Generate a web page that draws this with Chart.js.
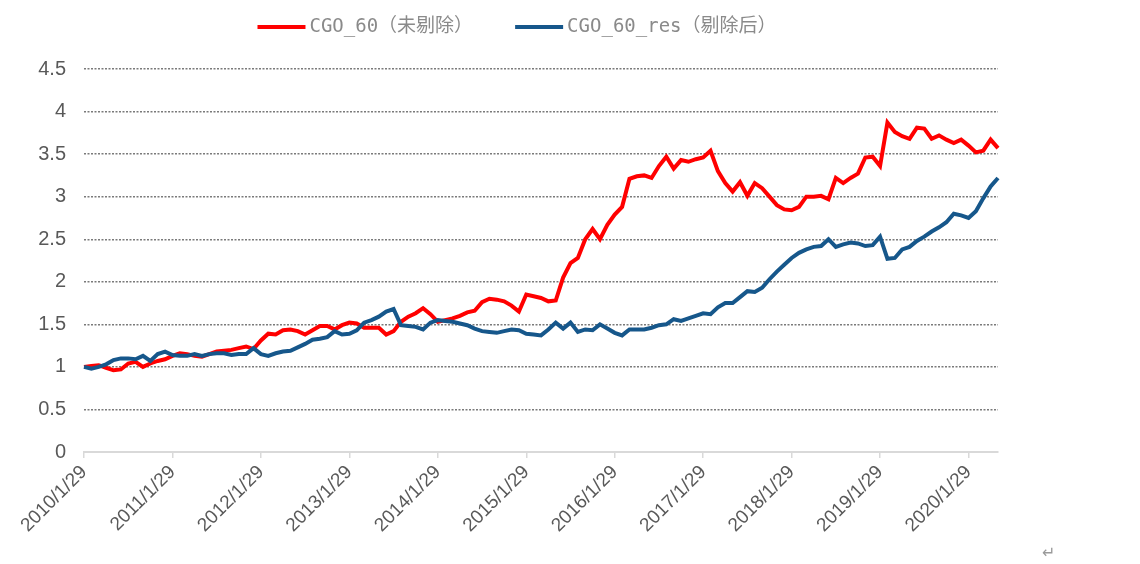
<!DOCTYPE html>
<html lang="zh-CN">
<head>
<meta charset="utf-8">
<title>CGO_60</title>
<script src="https://cdn.jsdelivr.net/npm/chart.js@4.4.1/dist/chart.umd.min.js"></script>
<style>
  html, body { margin: 0; padding: 0; background: #fff; }
  #wrap { position: relative; width: 1140px; height: 564px; }
  #para { position: absolute; left: 1042px; top: 543px; font: 16px 'DejaVu Sans', sans-serif; color: #9a9a9a; }
</style>
</head>
<body>
<div id="wrap">
  <canvas id="cgoChart" width="1140" height="564"></canvas>
  <span id="para">↵</span>
</div>
<script>
'use strict';

// monthly points, 2010/1 .. 2020/5
const MONTHS = [];
for (let y = 2010; y <= 2020; y++) {
  for (let m = 1; m <= 12; m++) {
    if (y === 2020 && m > 5) break;
    MONTHS.push(`${y}/${m}/29`);
  }
}

const CGO_60 = [
  1.00, 1.01, 1.02, 0.99, 0.96, 0.97, 1.04, 1.06, 1.00, 1.04, 1.07, 1.09,
  1.13, 1.16, 1.15, 1.13, 1.12, 1.15, 1.18, 1.19, 1.20, 1.22, 1.24, 1.21,
  1.31, 1.39, 1.38, 1.43, 1.44, 1.42, 1.38, 1.43, 1.48, 1.48, 1.44, 1.49,
  1.52, 1.51, 1.46, 1.46, 1.46, 1.38, 1.42, 1.53, 1.59, 1.63, 1.69, 1.62,
  1.53, 1.55, 1.57, 1.60, 1.64, 1.66, 1.76, 1.80, 1.79, 1.77, 1.72, 1.65,
  1.85, 1.83, 1.81, 1.77, 1.78, 2.05, 2.22, 2.28, 2.50, 2.62, 2.50, 2.67,
  2.79, 2.88, 3.21, 3.24, 3.25, 3.22, 3.36, 3.47, 3.33, 3.43, 3.41, 3.44,
  3.46, 3.54, 3.30, 3.16, 3.06, 3.17, 3.01, 3.16, 3.10, 3.00, 2.90, 2.85,
  2.84, 2.88, 3.00, 3.00, 3.01, 2.97, 3.22, 3.16, 3.22, 3.27, 3.46, 3.47,
  3.36, 3.87, 3.76, 3.71, 3.68, 3.81, 3.80, 3.68, 3.72, 3.67, 3.63, 3.67,
  3.60, 3.52, 3.54, 3.67, 3.57,
];

const CGO_60_RES = [
  1.00, 0.98, 1.00, 1.03, 1.08, 1.10, 1.10, 1.09, 1.13, 1.07, 1.15, 1.18,
  1.14, 1.13, 1.13, 1.15, 1.13, 1.15, 1.16, 1.16, 1.14, 1.15, 1.15, 1.22,
  1.15, 1.13, 1.16, 1.18, 1.19, 1.23, 1.27, 1.32, 1.33, 1.35, 1.42, 1.38,
  1.39, 1.43, 1.52, 1.55, 1.59, 1.65, 1.68, 1.49, 1.48, 1.47, 1.44, 1.52,
  1.55, 1.54, 1.53, 1.51, 1.49, 1.45, 1.42, 1.41, 1.40, 1.42, 1.44, 1.43,
  1.39, 1.38, 1.37, 1.44, 1.52, 1.45, 1.52, 1.41, 1.44, 1.43, 1.50, 1.45,
  1.40, 1.37, 1.44, 1.44, 1.44, 1.46, 1.49, 1.50, 1.56, 1.54, 1.57, 1.60,
  1.63, 1.62, 1.70, 1.75, 1.75, 1.82, 1.89, 1.88, 1.93, 2.03, 2.12, 2.20,
  2.28, 2.34, 2.38, 2.41, 2.42, 2.50, 2.41, 2.44, 2.46, 2.45, 2.42, 2.43,
  2.53, 2.27, 2.28, 2.38, 2.41, 2.48, 2.53, 2.59, 2.64, 2.70, 2.80, 2.78,
  2.75, 2.83, 2.98, 3.12, 3.22,
];

const SERIES_LABELS = ['CGO_60（未剔除）', 'CGO_60_res（剔除后）'];

const TEXT = '#595959';
const AXIS_FONT = 'Liberation Sans, Arial, sans-serif';

// simple line-sample legend drawn above the plot
const legendLine = {
  id: 'legendLine',
  afterDraw(chart) {
    const { ctx } = chart;
    const lineLen = 48, lineGap = 4, itemGap = 42, cx = 517, cy = 27;
    ctx.save();
    ctx.font = '19px "DejaVu Sans Mono", "Noto Sans CJK SC", monospace';
    ctx.textBaseline = 'middle';
    const items = chart.data.datasets.map(ds => ({ text: ds.label, color: ds.borderColor }));
    const widths = items.map(it => lineLen + lineGap + ctx.measureText(it.text).width);
    const total = widths.reduce((a, b) => a + b, 0) + itemGap * (items.length - 1);
    let x = cx - total / 2;
    items.forEach((it, i) => {
      ctx.strokeStyle = it.color;
      ctx.lineWidth = 4;
      ctx.beginPath();
      ctx.moveTo(x, cy);
      ctx.lineTo(x + lineLen, cy);
      ctx.stroke();
      ctx.fillStyle = '#8a8a8a';
      ctx.fillText(it.text, x + lineLen + lineGap, cy);
      x += widths[i] + itemGap;
    });
    ctx.restore();
  },
};

const cgoCtx = document.getElementById('cgoChart').getContext('2d');
new Chart(cgoCtx, {
  type: 'line',
  data: {
    labels: MONTHS,
    datasets: [{
      label: SERIES_LABELS[0],
      data: CGO_60,
      borderColor: '#ff0000',
      backgroundColor: '#ff0000',
      borderWidth: 4,
      pointRadius: 0,
      tension: 0,
      order: 1,
    }, {
      label: SERIES_LABELS[1],
      data: CGO_60_RES,
      borderColor: '#16578b',
      backgroundColor: '#16578b',
      borderWidth: 4,
      pointRadius: 0,
      tension: 0,
      order: 0,
    }],
  },
  options: {
    responsive: false,
    animation: false,
    layout: { padding: { top: 69, right: 142, bottom: 0, left: 0 } },
    plugins: {
      legend: { display: false },
      tooltip: { enabled: false },
    },
    scales: {
      x: {
        grid: {
          drawOnChartArea: false,
          tickLength: 6,
          lineWidth: 1.5,
          color: c => (c.index % 12 === 0 ? '#d9d9d9' : 'transparent'),
        },
        border: { color: '#d9d9d9', width: 2 },
        ticks: {
          autoSkip: false,
          maxRotation: 45,
          minRotation: 45,
          padding: 3,
          color: TEXT,
          font: { family: AXIS_FONT, size: 19 },
          callback: (v, i) => (i % 12 === 0 ? MONTHS[i] : ''),
        },
        afterFit: s => { s.height = 112; },
      },
      y: {
        min: 0,
        max: 4.5,
        ticks: {
          stepSize: 0.5,
          padding: 18,
          color: TEXT,
          font: { family: AXIS_FONT, size: 20 },
          callback: v => String(v),
        },
        grid: {
          drawTicks: false,
          lineWidth: 1.4,
          color: c => (c.tick && c.tick.value === 0 ? 'transparent' : '#7a7a7a'),
        },
        border: { display: false, dash: [2, 1.5] },
        afterFit: s => { s.width = 84; },
      },
    },
  },
  plugins: [legendLine],
});
</script>
</body>
</html>
